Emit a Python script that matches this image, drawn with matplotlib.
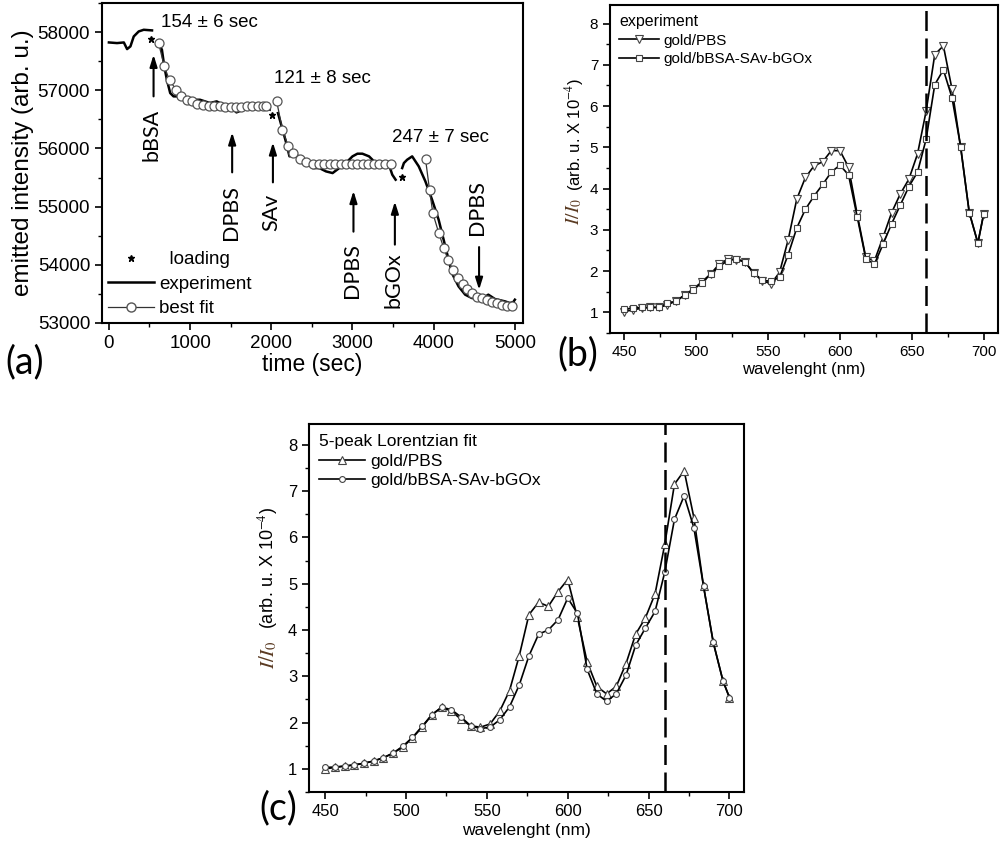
import numpy as np
import matplotlib
matplotlib.use('Agg')
import matplotlib.pyplot as plt
from matplotlib.lines import Line2D
from matplotlib.ticker import MultipleLocator

plt.rcParams['font.family'] = ['Liberation Sans', 'DejaVu Sans']
plt.rcParams['mathtext.fontset'] = 'stix'

nan = np.nan
# ---------------- panel (a) data ----------------
t_exp = [0, 100, 184, 224, 265, 306, 367, 429, 531, nan,
         612, 653, 682, 714, 755, 796, 878, 959, 1041, 1122, 1184, 1245, 1327, 1408, 1490, 1571,
         1653, 1735, 1816, 1898, 1980, nan,
         2082, 2122, 2151, 2184, 2224, 2286, 2347, 2429, 2510, 2592, 2673, 2755, 2837, 2918, 3000,
         3061, 3122, 3204, 3286, 3367, 3449, 3490, 3531, nan,
         3612, 3633, 3673, 3735, 3816, 3898, 3980, 4061, 4143, 4224, 4306, 4388, 4469, 4551, 4620,
         4673, 4755, 4878, 4939, 4980, 5000]
I_exp = [57822, 57811, 57822, 57708, 57754, 57925, 58011, 58040, 58029, nan,
         57811, 57696, 57410, 57181, 56952, 56895, 56895, 56837, 56837, 56837, 56809, 56780, 56809,
         56751, 56723, 56620, 56666, 56694, 56711, 56694, 56666, nan,
         56608, 56408, 56265, 56093, 55864, 55892, 55864, 55778, 55663, 55663, 55606, 55577, 55663,
         55749, 55864, 55910, 55910, 55864, 55749, 55720, 55720, 55549, 55463, nan,
         55663, 55749, 55806, 55864, 55692, 55434, 55119, 54775, 54317, 53859, 53630, 53487, 53430,
         53412, 53440, 53487, 53412, 53372, 53343, 53360, 53401]

t_fit1 = [612, 682, 747, 829, 886, 959, 1020, 1090, 1163, 1233, 1298, 1367, 1433, 1500, 1567,
          1633, 1700, 1767, 1833, 1900, 1939]
I_fit1 = [57811, 57410, 57170, 57009, 56895, 56837, 56809, 56769, 56751, 56734, 56723, 56723,
          56720, 56720, 56720, 56720, 56722, 56725, 56725, 56725, 56725]
t_fit2 = [2065, 2138, 2207, 2268, 2358, 2432, 2513, 2584, 2652, 2720, 2788, 2856, 2924, 2992,
          3060, 3128, 3196, 3264, 3332, 3400, 3470]
I_fit2 = [56820, 56316, 56047, 55930, 55812, 55772, 55740, 55735, 55735, 55735, 55735, 55735,
          55735, 55735, 55735, 55735, 55735, 55735, 55735, 55735, 55735]
t_fit3 = [3900, 3949, 3990, 4064, 4125, 4178, 4235, 4296, 4357, 4410, 4472, 4533, 4594, 4655,
          4716, 4777, 4839, 4900, 4961]
I_fit3 = [55812, 55285, 54885, 54541, 54283, 54082, 53911, 53768, 53670, 53579, 53510, 53452,
          53424, 53395, 53366, 53338, 53309, 53292, 53292]

t_load = [522, 2003, 3607]
I_load = [57880, 56574, 55503]

rate_labels = ['154 ± 6 sec', '121 ± 8 sec', '247 ± 7 sec']
rate_t = [636, 2032, 3490]
rate_I = [58172, 57210, 56180]

# (label, time, arrow tip I, arrow tail I, label centre I)
events = [('bBSA', 550, 57610, 56895, 56230),
          ('DPBS', 1518, 56276, 55589, 54900),
          ('SAv', 2020, 56104, 55417, 54900),
          ('DPBS', 3012, 55270, 54570, 53900),
          ('bGOx', 3522, 55087, 54347, 53740),
          ('DPBS', 4559, 53570, 54305, 54990)]

# ---------------- panel (b) data ----------------
wl_b = [450, 456, 462, 468, 474, 480, 486, 492, 498, 504, 510, 516, 522, 528, 534, 540, 546, 552,
        558, 564, 570, 576, 582, 588, 594, 600, 606, 612, 618, 624, 630, 636, 642, 648, 654, 660,
        666, 672, 678, 684, 690, 696, 700]
pbs_b = [1.02, 1.06, 1.10, 1.12, 1.12, 1.18, 1.28, 1.42, 1.57, 1.74, 1.93, 2.17, 2.29, 2.28, 2.22,
         1.95, 1.77, 1.69, 1.97, 2.76, 3.75, 4.27, 4.55, 4.65, 4.92, 4.92, 4.52, 3.38, 2.33, 2.25,
         2.82, 3.42, 3.87, 4.23, 4.84, 5.88, 7.25, 7.46, 6.41, 5.00, 3.42, 2.68, 3.38]
bio_b = [1.08, 1.10, 1.12, 1.12, 1.12, 1.22, 1.27, 1.42, 1.55, 1.72, 1.92, 2.12, 2.25, 2.30, 2.22,
         1.95, 1.78, 1.75, 1.85, 2.40, 3.05, 3.50, 3.82, 4.10, 4.40, 4.57, 4.33, 3.32, 2.30, 2.17,
         2.65, 3.15, 3.60, 4.05, 4.40, 5.20, 6.52, 6.88, 6.20, 5.02, 3.42, 2.68, 3.38]

# ---------------- panel (c) data ----------------
wl_c = [450, 456, 462, 468, 474, 480, 486, 492, 498, 504, 510, 516, 522, 528, 534, 540, 546, 552,
        558, 564, 570, 576, 582, 588, 594, 600, 606, 612, 618, 624, 630, 636, 642, 648, 654, 660,
        666, 672, 678, 684, 690, 696, 700]
pbs_c = [1.00, 1.03, 1.06, 1.08, 1.12, 1.17, 1.24, 1.34, 1.47, 1.67, 1.90, 2.17, 2.33, 2.25, 2.07,
         1.93, 1.90, 1.97, 2.25, 2.69, 3.44, 4.33, 4.60, 4.51, 4.83, 5.09, 4.27, 3.31, 2.78, 2.62,
         2.78, 3.27, 3.91, 4.26, 4.78, 5.85, 7.15, 7.44, 6.43, 4.94, 3.73, 2.90, 2.54]
bio_c = [1.03, 1.04, 1.06, 1.09, 1.12, 1.17, 1.24, 1.34, 1.49, 1.68, 1.92, 2.17, 2.33, 2.28, 2.12,
         1.93, 1.87, 1.90, 2.06, 2.34, 2.81, 3.44, 3.91, 4.00, 4.22, 4.69, 4.36, 3.15, 2.62, 2.46,
         2.62, 3.02, 3.67, 4.04, 4.40, 5.25, 6.39, 6.90, 6.21, 4.94, 3.73, 2.90, 2.54]

marker_wl = 660

W, H = 1000, 843
fig = plt.figure(figsize=(W / 100, H / 100), dpi=100)


def fx(px):
    return px / W


def fy(py):
    return 1 - py / H


axA = fig.add_axes([fx(102), fy(323), fx(523 - 102), (323 - 3) / H])
axB = fig.add_axes([fx(610), fy(333), fx(998 - 610), (333 - 5) / H])
axC = fig.add_axes([fx(309), fy(792), fx(744 - 309), (792 - 424) / H])

for ax in (axA, axB, axC):
    for s in ax.spines.values():
        s.set_linewidth(1.5)
    ax.tick_params(which='major', direction='out', length=5, width=1.2, top=False, right=False)
    ax.tick_params(which='minor', direction='out', length=3, width=1.0, top=False, right=False)

# ---------------- panel (a) ----------------
axA.plot(t_exp, I_exp, color='black', lw=1.8, zorder=3)
for tt, ii in ((t_fit1, I_fit1), (t_fit2, I_fit2), (t_fit3, I_fit3)):
    axA.plot(tt, ii, color='#333333', lw=0.9, marker='o', ms=6.5, mfc='white', mec='#555555',
             mew=0.9, zorder=4)
axA.plot(t_load, I_load, ls='none', marker='*', color='black', ms=5, zorder=5)
axA.set_xlim(-85, 5100)
axA.set_ylim(53000, 58500)
axA.set_xticks([0, 1000, 2000, 3000, 4000, 5000])
axA.xaxis.set_minor_locator(MultipleLocator(500))
axA.set_yticks([53000, 54000, 55000, 56000, 57000, 58000])
axA.yaxis.set_minor_locator(MultipleLocator(500))
axA.tick_params(labelsize=13.5)
axA.set_xlabel('time (sec)', fontsize=16.5, labelpad=1)
axA.set_ylabel('emitted intensity (arb. u.)', fontsize=17.5, labelpad=3)

for lab, tx, ty in zip(rate_labels, rate_t, rate_I):
    axA.text(tx, ty, lab, fontsize=13.5, ha='left', va='center')

for lab, tx, tip, tail, ly in events:
    axA.annotate('', xy=(tx, tip), xytext=(tx, tail),
                 arrowprops=dict(arrowstyle='-|>,head_width=0.22,head_length=0.7',
                                 color='black', lw=1.5, shrinkA=0, shrinkB=0))
    axA.text(tx - 20, ly, lab, rotation=90, ha='center', va='center', fontsize=15.5,
             family=['Lato', 'DejaVu Sans'])

hA = [Line2D([], [], ls='none', marker='*', color='black', ms=5),
      Line2D([], [], color='black', lw=1.8),
      Line2D([], [], color='#333333', lw=0.9, marker='o', ms=6.5, mfc='white', mec='#555555')]
axA.legend(hA, ['  loading', 'experiment', 'best fit'], loc='lower left', frameon=False,
           fontsize=13.5, handlelength=2.45, handletextpad=0.3, labelspacing=0.4,
           borderaxespad=0.1, borderpad=0.2, numpoints=1)

# ---------------- panel (b) ----------------
axB.plot(wl_b, pbs_b, color='black', lw=1.2, marker='v', ms=5.5, mfc='white', mec='#444444',
         mew=0.8, label='gold/PBS')
axB.plot(wl_b, bio_b, color='black', lw=1.2, marker='s', ms=4.5, mfc='white', mec='#444444',
         mew=0.8, label='gold/bBSA-SAv-bGOx')
axB.axvline(marker_wl, color='black', lw=1.8, ls=(0, (8, 3)))
axB.set_xlim(440, 710)
axB.set_ylim(0.5, 8.45)
axB.set_xticks([450, 500, 550, 600, 650, 700])
axB.xaxis.set_minor_locator(MultipleLocator(25))
axB.set_yticks([1, 2, 3, 4, 5, 6, 7, 8])
axB.yaxis.set_minor_locator(MultipleLocator(0.5))
axB.tick_params(labelsize=11)
axB.set_xlabel('wavelenght (nm)', fontsize=12, labelpad=2)
legB = axB.legend(title='experiment', loc='upper left', frameon=False, fontsize=11,
                  title_fontsize=11.5, handlelength=2.6, handletextpad=0.3, labelspacing=0.3,
                  borderaxespad=0.3, borderpad=0.3)
legB._legend_box.align = 'left'

# ---------------- panel (c) ----------------
axC.plot(wl_c, pbs_c, color='black', lw=1.2, marker='^', ms=6, mfc='white', mec='#444444',
         mew=0.8, label='gold/PBS')
axC.plot(wl_c, bio_c, color='black', lw=1.2, marker='o', ms=4.2, mfc='white', mec='#444444',
         mew=0.8, label='gold/bBSA-SAv-bGOx')
axC.axvline(marker_wl, color='black', lw=1.8, ls=(0, (8, 3)))
axC.set_xlim(440, 709)
axC.set_ylim(0.5, 8.45)
axC.set_xticks([450, 500, 550, 600, 650, 700])
axC.xaxis.set_minor_locator(MultipleLocator(25))
axC.set_yticks([1, 2, 3, 4, 5, 6, 7, 8])
axC.yaxis.set_minor_locator(MultipleLocator(0.5))
axC.tick_params(labelsize=12)
axC.set_xlabel('wavelenght (nm)', fontsize=12.5, labelpad=3)
legC = axC.legend(title='5-peak Lorentzian fit', loc='upper left', frameon=False, fontsize=12.5,
                  title_fontsize=12.5, handlelength=2.6, handletextpad=0.3, labelspacing=0.25,
                  borderaxespad=0.3, borderpad=0.3)
legC._legend_box.align = 'left'

# y labels for (b) and (c): italic ratio in brown + rest in black
brown = '#5a3a22'
fig.text(fx(574), fy(211), r'$I/I_0$', rotation=90, ha='center', va='center', fontsize=14,
         color=brown)
fig.text(fx(574), fy(135), r'(arb. u. X 10$^{-4}$)', rotation=90, ha='center', va='center',
         fontsize=12)
fig.text(fx(268), fy(655), r'$I/I_0$', rotation=90, ha='center', va='center', fontsize=15,
         color=brown)
fig.text(fx(268), fy(568), r'(arb. u. X 10$^{-4}$)', rotation=90, ha='center', va='center',
         fontsize=13)

# panel letters
for lab, px, py in (('(a)', 25, 362), ('(b)', 578, 354), ('(c)', 278, 808)):
    fig.text(fx(px), fy(py), lab, fontsize=27, ha='center', va='center',
             family=['Lato', 'DejaVu Sans'])

fig.savefig('out.png', dpi=100)
